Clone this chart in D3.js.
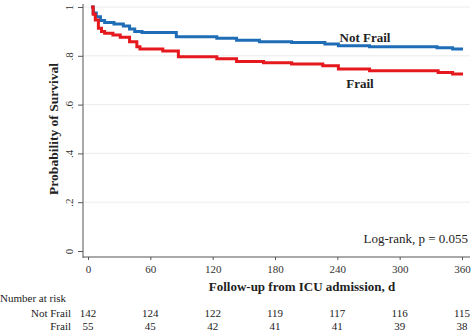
<!DOCTYPE html>
<html>
<head>
<meta charset="utf-8">
<script src="https://cdn.jsdelivr.net/npm/d3@7"></script>
<style>
  body { margin: 0; background: #fff; }
  svg { display: block; font-family: "Liberation Serif", "DejaVu Serif", serif; }
</style>
</head>
<body>
<div id="chart"></div>
<script>
// survival step data (day, probability)
var notFrailDays = [3, 5, 8, 12, 16, 25, 34, 40, 45, 52, 85, 124, 143, 165, 196, 228, 241, 271, 336, 351, 361];
var notFrailSurv = [1, 0.975, 0.96, 0.945, 0.936, 0.93, 0.922, 0.91, 0.90, 0.896, 0.878, 0.872, 0.864, 0.858, 0.854, 0.848, 0.841, 0.837, 0.833, 0.828, 0.828];
var frailDays = [3, 5, 7, 10, 13, 16, 24, 31, 40, 47, 50, 72, 87, 124, 143, 169, 196, 226, 241, 271, 337, 351, 361];
var frailSurv = [1, 0.97, 0.947, 0.913, 0.90, 0.892, 0.885, 0.876, 0.858, 0.837, 0.828, 0.82, 0.796, 0.788, 0.777, 0.772, 0.766, 0.759, 0.746, 0.739, 0.732, 0.725, 0.725];

var xTicks = [0, 60, 120, 180, 240, 300, 360];
var yTicks = [0, 0.2, 0.4, 0.6, 0.8, 1];
var yTickLabels = ["0", ".2", ".4", ".6", ".8", "1"];

var riskGroups = ["Not Frail", "Frail"];
var riskNotFrail = [142, 124, 122, 119, 117, 116, 115];
var riskFrail = [55, 45, 42, 41, 41, 39, 38];

var blue = "#1f6db6";
var red = "#e4181d";

var svg = d3.select("#chart")
	.append("svg")
	.attr("width", 472)
	.attr("height", 333);

var x = d3.scaleLinear().domain([0, 360]).range([88, 462]);
var y = d3.scaleLinear().domain([0, 1]).range([251, 7]);

// light grid lines
svg.selectAll(".grid")
	.data(yTicks.filter(function(d) { return d > 0; }))
	.enter().append("line")
	.attr("x1", 83).attr("x2", 470)
	.attr("y1", function(d) { return y(d); })
	.attr("y2", function(d) { return y(d); })
	.style("stroke", "#ececec")
	.style("stroke-width", 1);

// y axis
var yAxis = svg.append("g")
	.attr("transform", "translate(83,0)")
	.call(d3.axisLeft(y).tickValues(yTicks).tickSize(5).tickSizeOuter(0)
		.tickFormat(function(d, i) { return yTickLabels[i]; }));
yAxis.select(".domain").remove();
yAxis.append("line").attr("x1", 0).attr("x2", 0).attr("y1", 4).attr("y2", 258)
	.style("stroke", "#555");
yAxis.selectAll(".tick line").style("stroke", "#555");
yAxis.selectAll(".tick text")
	.attr("x", null).attr("dy", null)
	.attr("transform", "translate(-10,0) rotate(-90)")
	.attr("text-anchor", "middle")
	.style("font-size", "11px")
	.style("fill", "#333")
	.style("font-family", "Liberation Serif, serif");

// x axis
var xAxis = svg.append("g")
	.attr("transform", "translate(0,257)")
	.call(d3.axisBottom(x).tickValues(xTicks).tickSize(3).tickSizeOuter(0));
xAxis.select(".domain").remove();
xAxis.append("line").attr("x1", 83).attr("x2", 470).attr("y1", 0).attr("y2", 0)
	.style("stroke", "#555");
xAxis.selectAll(".tick line").style("stroke", "#555");
xAxis.selectAll(".tick text")
	.attr("dy", null).attr("y", 16)
	.style("font-size", "11px")
	.style("fill", "#333")
	.style("font-family", "Liberation Serif, serif");

// survival curves
var line = d3.line()
	.x(function(d) { return x(d[0]); })
	.y(function(d) { return y(d[1]); })
	.curve(d3.curveStepAfter);

svg.append("path")
	.datum(notFrailDays.map(function(d, i) { return [d, notFrailSurv[i]]; }))
	.attr("d", line)
	.style("fill", "none").style("stroke", blue).style("stroke-width", 3);

svg.append("path")
	.datum(frailDays.map(function(d, i) { return [d, frailSurv[i]]; }))
	.attr("d", line)
	.style("fill", "none").style("stroke", red).style("stroke-width", 3);

// curve labels
svg.append("text").attr("x", 365).attr("y", 42).attr("text-anchor", "middle")
	.style("font-size", "13px").style("font-weight", "bold").style("fill", "#222")
	.text("Not Frail");
svg.append("text").attr("x", 360).attr("y", 88).attr("text-anchor", "middle")
	.style("font-size", "13px").style("font-weight", "bold").style("fill", "#222")
	.text("Frail");

svg.append("text").attr("x", 468).attr("y", 243).attr("text-anchor", "end")
	.style("font-size", "13px").style("fill", "#222")
	.text("Log-rank, p = 0.055");

// axis titles
svg.append("text").attr("x", 302).attr("y", 291).attr("text-anchor", "middle")
	.style("font-size", "13px").style("font-weight", "bold").style("fill", "#222")
	.text("Follow-up from ICU admission, d");

svg.append("text")
	.attr("transform", "translate(58,129) rotate(-90)")
	.attr("text-anchor", "middle")
	.style("font-size", "13.5px").style("font-weight", "bold").style("fill", "#222")
	.text("Probability of Survival");

// number at risk table
svg.append("text").attr("x", 0).attr("y", 302)
	.style("font-size", "11px").style("fill", "#222")
	.text("Number at risk");

var riskRows = [riskNotFrail, riskFrail];
riskRows.forEach(function(row, r) {
	var yy = 317 + r * 13;
	svg.append("text").attr("x", 71).attr("y", yy).attr("text-anchor", "end")
		.style("font-size", "11px").style("fill", "#222")
		.text(riskGroups[r]);
	svg.selectAll(".risk" + r)
		.data(row)
		.enter().append("text")
		.attr("class", "risk" + r)
		.attr("x", function(d, i) { return x(xTicks[i]); })
		.attr("y", yy)
		.attr("text-anchor", "middle")
		.style("font-size", "11px").style("fill", "#222")
		.text(function(d) { return d; });
});
</script>
</body>
</html>
